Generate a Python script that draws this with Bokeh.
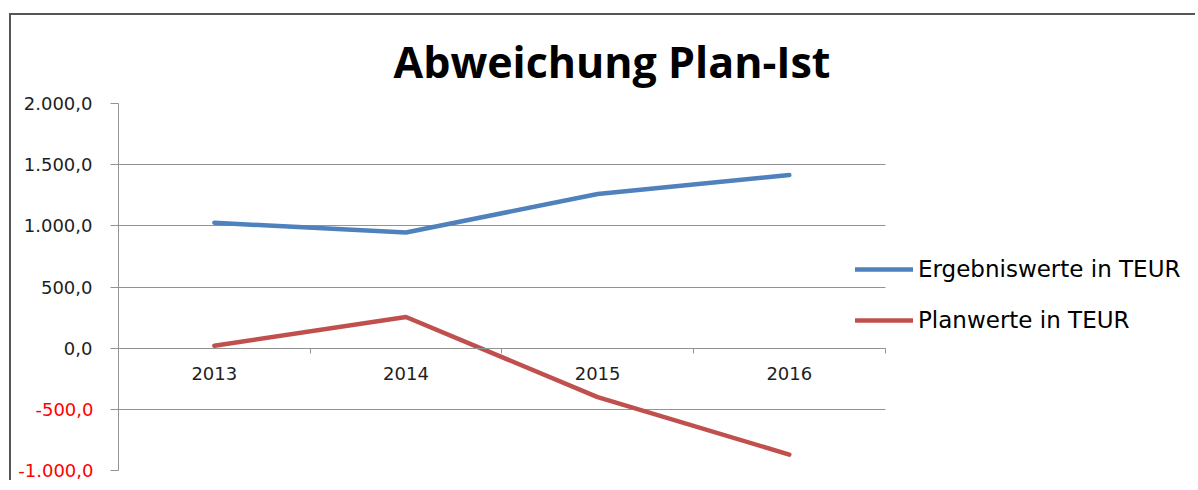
from bokeh.plotting import figure
from bokeh.models import (Range1d, FixedTicker, CustomJSTickFormatter,
                          LinearAxis, Legend, LegendItem)
from bokeh.embed import file_html
from bokeh.resources import INLINE

# ---- data ----
years = ["2013", "2014", "2015", "2016"]
ergebnis = [1025, 945, 1260, 1415]
plan = [20, 255, -400, -870]
y_ticks = [-1000, -500, 0, 500, 1000, 1500, 2000]
series_names = ["Ergebniswerte in TEUR", "Planwerte in TEUR"]
title_text = "Abweichung Plan-Ist"

# category slots: each year sits in the middle of its slot
x_pos = [i + 0.5 for i in range(len(years))]
boundaries = list(range(1, len(years) + 1))
n_cat = len(years)

FONT = "DejaVu Sans"
GRID = "#939393"
TXT = "#1e1e1e"

# the x range goes on past the last slot so that the legend fits inside the frame
p = figure(x_range=Range1d(0, 5.63), y_range=Range1d(-1000, 2000),
           width=1186, height=467, output_backend="svg", toolbar_location=None,
           min_border_left=107, min_border_right=0, min_border_top=88,
           min_border_bottom=12, title=title_text)
p.margin = (13, 0, 0, 9)
p.styles = {"border-left": "2px solid #555555", "border-top": "2px solid #555555"}
p.outline_line_color = None
p.background_fill_color = "white"
p.border_fill_color = "white"

p.title.text_font = "Open Sans"
p.title.text_font_style = "bold"
p.title.text_font_size = "43px"
p.title.text_color = "black"
p.title.align = "left"
p.title.offset = 275
p.title.standoff = 25

# grid (only across the category slots)
p.xgrid.visible = False
p.ygrid.ticker = FixedTicker(ticks=y_ticks)
p.ygrid.grid_line_color = GRID
p.ygrid.grid_line_width = 1
p.ygrid.cross_bounds = (0, n_cat)

fmt_pos = """
if (tick < 0) { return ""; }
const parts = Math.abs(tick).toFixed(1).split('.');
return parts[0].replace(/\\B(?=(\\d{3})+(?!\\d))/g, '.') + ',' + parts[1];
"""
fmt_neg = """
const parts = Math.abs(tick).toFixed(1).split('.');
return '-' + parts[0].replace(/\\B(?=(\\d{3})+(?!\\d))/g, '.') + ',' + parts[1];
"""

# y axis (black labels, all tick marks)
ya = p.yaxis[0]
ya.ticker = FixedTicker(ticks=y_ticks)
ya.formatter = CustomJSTickFormatter(code=fmt_pos)
ya.axis_line_color = GRID
ya.major_tick_line_color = GRID
ya.major_tick_out = 8
ya.major_tick_in = 0
ya.minor_tick_line_color = None
ya.major_label_standoff = 18
ya.major_label_text_font = FONT
ya.major_label_text_font_size = "18px"
ya.major_label_text_color = TXT

# outer y axis carrying the negative labels (red), pulled back onto the inner one
ya2 = LinearAxis(ticker=FixedTicker(ticks=[t for t in y_ticks if t < 0]),
                 formatter=CustomJSTickFormatter(code=fmt_neg))
ya2.axis_line_color = None
ya2.major_tick_line_color = None
ya2.major_tick_out = 0
ya2.major_tick_in = 0
ya2.minor_tick_line_color = None
ya2.major_label_standoff = -73
ya2.major_label_text_font = FONT
ya2.major_label_text_font_size = "18px"
ya2.major_label_text_color = "#ff0000"
p.add_layout(ya2, "left")

# category axis crossing at 0 (labels at slot centres)
xa = p.xaxis[0]
xa.ticker = FixedTicker(ticks=x_pos)
xa.major_label_overrides = {x: y for x, y in zip(x_pos, years)}
xa.fixed_location = 0
xa.bounds = (0, n_cat)
xa.axis_line_color = GRID
xa.major_tick_line_color = None
xa.major_tick_out = 0
xa.major_tick_in = 0
xa.minor_tick_line_color = None
xa.major_label_standoff = 19
xa.major_label_text_font = FONT
xa.major_label_text_font_size = "18px"
xa.major_label_text_color = TXT

# boundary tick marks between categories
xa2 = LinearAxis(ticker=FixedTicker(ticks=boundaries),
                 major_label_overrides={b: "" for b in boundaries})
xa2.fixed_location = 0
xa2.axis_line_color = None
xa2.major_tick_line_color = GRID
xa2.major_tick_out = 5
xa2.major_tick_in = 0
xa2.minor_tick_line_color = None
p.add_layout(xa2, "below")

# lines
r1 = p.line(x_pos, ergebnis, line_color="#4F81BD", line_width=4.5,
            line_cap="round", line_join="round")
r2 = p.line(x_pos, plan, line_color="#C0504D", line_width=4.5,
            line_cap="round", line_join="round")

legend = Legend(items=[LegendItem(label=series_names[0], renderers=[r1]),
                       LegendItem(label=series_names[1], renderers=[r2])],
                location=(737, 137))
legend.padding = 0
legend.margin = 0
legend.spacing = 25
legend.glyph_width = 58
legend.glyph_height = 24
legend.label_height = 24
legend.label_standoff = 5
legend.label_text_font = FONT
legend.label_text_font_size = "23px"
legend.label_text_color = "black"
legend.border_line_color = None
legend.background_fill_alpha = 0
p.add_layout(legend)

open("out.html", "w").write(file_html(p, INLINE))
